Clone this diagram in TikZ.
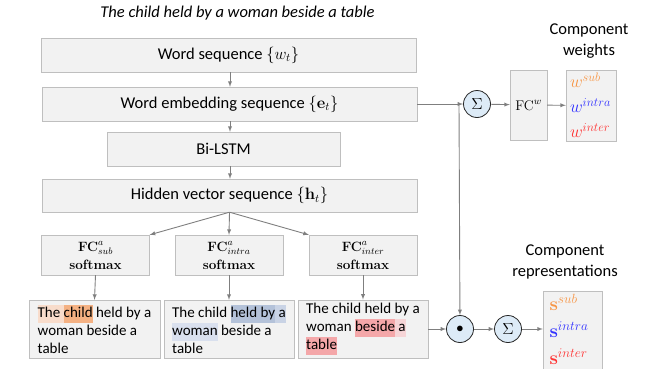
\RequirePackage{fix-cm}
\documentclass[tikz,border=0pt]{standalone}
\usepackage{amsmath}
\usepackage[no-math]{fontspec}
\setmainfont{Carlito}
\usepackage{tikz}
\definecolor{boxfill}{HTML}{F2F2F2}
\definecolor{boxline}{HTML}{BFBFBF}
\definecolor{arrowgray}{HTML}{7F7F7F}
\definecolor{opfill}{HTML}{DDEBF7}
\definecolor{wsub}{HTML}{F79646}
\definecolor{wintra}{HTML}{3333FF}
\definecolor{winter}{HTML}{FF3333}
\definecolor{hlsubA}{HTML}{F8DCCB}
\definecolor{hlsubB}{HTML}{F4B183}
\definecolor{hlintraA}{HTML}{B4C2D9}
\definecolor{hlintraB}{HTML}{C9D3E5}
\definecolor{hlintraC}{HTML}{D9E0EE}
\definecolor{hlinterA}{HTML}{F4A7A9}
\definecolor{hlinterB}{HTML}{F6D5D7}
\tikzset{>=latex}
\tikzset{
  block/.style={draw=boxline, fill=boxfill, minimum height=34pt, font=\fontsize{16.5}{20}\selectfont},
  fcbox/.style={draw=boxline, fill=boxfill, minimum width=108pt, minimum height=40pt, align=center, font=\fontsize{13.5}{18}\selectfont},
  tbox/.style={draw=boxline, fill=boxfill, minimum width=131pt, minimum height=58pt, align=left, inner xsep=5pt, font=\fontsize{15}{18}\selectfont},
  flow/.style={->, draw=arrowgray, line width=0.9pt},
  op/.style={circle, draw=black!85, fill=opfill, minimum size=27pt, inner sep=0pt, line width=0.8pt, font=\fontsize{16}{16}\selectfont},
  caption/.style={align=center, font=\fontsize{16.5}{21}\selectfont},
}
\newcommand{\hlw}[2]{{\setlength{\fboxsep}{0pt}\colorbox{#1}{\strut #2}}}

\begin{document}
\begin{tikzpicture}[x=1pt, y=-1pt]
\useasboundingbox (0,0) rectangle (647,368);
  % Sentence and encoder
  \node[font=\fontsize{16.5}{20}\selectfont\itshape] (title) at (237.5,13) {The child held by a woman beside a table};
  \node[block, minimum width=375pt] (ws) at (228.5,55) {Word sequence $\{w_t\}$};
  \node[block, minimum width=375pt] (emb) at (229.5,104) {Word embedding sequence $\{\mathbf{e}_t\}$};
  \node[block, minimum width=233pt] (lstm) at (223.5,149) {Bi-LSTM};
  \node[block, minimum width=375pt, minimum height=33pt] (hid) at (229.5,195.5) {Hidden vector sequence $\{\mathbf{h}_t\}$};
  \draw[flow] (ws.south -| 230,0) -- (emb.north -| 230,0);
  \draw[flow] (emb.south -| 230,0) -- (lstm.north -| 230,0);
  \draw[flow] (lstm.south -| 230,0) -- (hid.north -| 230,0);

  % Attention branches
  \foreach \n/\x in {sub/95.5, intra/229, inter/363}
    \node[fcbox] (fc\n) at (\x,255) {$\mathbf{FC}^{a}_{\n}$\\ $\mathbf{softmax}$};
  \draw[flow] (hid.south) -- (fcsub.north east);
  \draw[flow] (hid.south) -- (fcintra.north);
  \draw[flow] (hid.south) -- (fcinter.north west);

  \node[tbox] (tsub) at (94.5,329) {\hlw{hlsubA}{The }\hlw{hlsubB}{child} held by a\\ woman beside a\\ table};
  \node[tbox, minimum width=130pt] (tintra) at (229,329) {The child \hlw{hlintraA}{held by}\hlw{hlintraB}{ a}\\ \hlw{hlintraC}{woman} beside a\\ table};
  \node[tbox, minimum width=130pt] (tinter) at (363,329) {The child held by a\\ woman \hlw{hlinterA}{beside}\hlw{hlinterB}{ a}\\ \hlw{hlinterA}{table}};
  \foreach \n in {sub, intra, inter}
    \draw[flow] (fc\n.south) -- (t\n.north);

  % Component weights
  \node[op] (sum1) at (477,104) {$\Sigma$};
  \node[draw=boxline, fill=boxfill, minimum width=37pt, minimum height=70pt, font=\fontsize{14}{16}\selectfont] (fcw) at (528.5,105) {$\mathrm{FC}^{w}$};
  \node[draw=boxline, fill=boxfill, minimum width=50pt, minimum height=71pt, text width=42pt, inner xsep=4pt, align=left, font=\fontsize{17.5}{25}\selectfont] (wout) at (591,105.5)
    {$\color{wsub}w^{sub}$\\ $\color{wintra}w^{intra}$\\ $\color{winter}w^{inter}$};
  \node[caption] (wcap) at (589,41.5) {Component\\ weights};
  \coordinate (jn) at (459,104);
  \draw[flow] (emb.east) -- (sum1.west);
  \draw[flow] (sum1) -- (fcw);
  \draw[flow] (fcw) -- (wout);

  % Component representations
  \node[op, font=\Large] (dot) at (460,329) {$\bullet$};
  \node[op] (sum2) at (508,329) {$\Sigma$};
  \node[draw=boxline, fill=boxfill, minimum width=59pt, minimum height=90pt, anchor=north] (sout) at (572.5,291) {};
  \node[anchor=west, align=left, font=\fontsize{19}{27}\selectfont] (slist) at (546,329)
    {$\color{wsub}\mathbf{s}^{sub}$\\ $\color{wintra}\mathbf{s}^{intra}$\\ $\color{winter}\mathbf{s}^{inter}$};
  \node[caption] (scap) at (565,262) {Component\\ representations};
  \draw[flow] (jn) -- (dot);
  \draw[flow] (tinter.east) -- (dot);
  \draw[flow] (dot) -- (sum2);
  \draw[flow] (sum2) -- (sout.west |- sum2);
\end{tikzpicture}
\end{document}
